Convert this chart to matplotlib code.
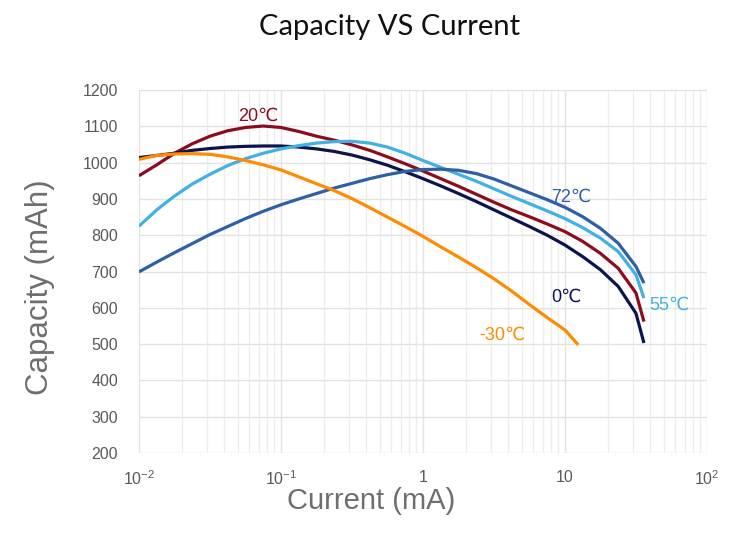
import matplotlib
matplotlib.use("Agg")
import matplotlib.pyplot as plt
from matplotlib.ticker import LogLocator, NullFormatter

plt.rcParams['font.family'] = ['Liberation Sans', 'DejaVu Sans']
plt.rcParams['mathtext.fontset'] = 'custom'
plt.rcParams['mathtext.rm'] = 'Liberation Sans'
plt.rcParams['mathtext.it'] = 'Liberation Sans'

# Current (mA), read at 1/8-decade steps
current = [0.01, 0.01334, 0.01778, 0.02371, 0.03162, 0.04217, 0.05623, 0.07499,
           0.1, 0.1334, 0.1778, 0.2371, 0.3162, 0.4217, 0.5623, 0.7499,
           1.0, 1.334, 1.778, 2.371, 3.162, 4.217, 5.623, 7.499,
           10.0, 13.34, 17.78, 23.71, 31.62, 36.0]
current_m30 = current[:25] + [12.4]

cap_20 = [964, 994, 1026, 1052, 1073, 1088, 1097, 1101,
          1097, 1086, 1073, 1062, 1049, 1034, 1016, 997,
          977, 956, 935, 913, 891, 870, 851, 831,
          810, 783, 750, 709, 641, 562]
cap_0 = [1014, 1020, 1026, 1034, 1039, 1043, 1045, 1046,
         1046, 1043, 1038, 1031, 1021, 1008, 993, 975,
         956, 936, 915, 893, 870, 847, 824, 800,
         773, 741, 705, 659, 585, 503]
cap_55 = [825, 870, 908, 941, 968, 992, 1011, 1026,
          1038, 1047, 1054, 1058, 1059, 1054, 1043, 1026,
          1006, 987, 968, 949, 928, 907, 887, 867,
          846, 821, 792, 755, 691, 627]
cap_72 = [699, 726, 752, 777, 802, 824, 846, 866,
          884, 900, 915, 930, 943, 956, 967, 976,
          981, 982, 979, 970, 955, 936, 917, 898,
          877, 851, 819, 778, 714, 668]
cap_m30 = [1009, 1020, 1024, 1025, 1023, 1016, 1006, 994,
           980, 961, 942, 923, 901, 876, 850, 824,
           797, 768, 740, 711, 680, 646, 609, 573,
           539, 498]

series = [
    ("20℃", current, cap_20, "#8C0C1E"),
    ("0℃", current, cap_0, "#0C1450"),
    ("55℃", current, cap_55, "#41B0E4"),
    ("72℃", current, cap_72, "#2F5FA7"),
    ("-30℃", current_m30, cap_m30, "#FF8C00"),
]

labels = {
    "20℃": (0.069, 1128),
    "72℃": (11.1, 906),
    "0℃": (10.2, 630),
    "55℃": (54.8, 608),
    "-30℃": (3.6, 525),
}

fig = plt.figure(figsize=(7.5, 5.36), dpi=100)
ax = fig.add_axes([0.1853, 0.1549, 0.7573, 0.677])

for name, xs, ys, col in series:
    ax.plot(xs, ys, color=col, lw=2.3, solid_capstyle='butt', solid_joinstyle='round', zorder=3)
    lx, ly = labels[name]
    ax.text(lx, ly, name, color=col, fontsize=13, ha='center', va='center', zorder=4)

ax.set_xscale('log')
ax.set_xlim(0.01, 100)
ax.set_ylim(200, 1200)
ax.set_yticks(range(200, 1201, 100))
ax.set_xticks([0.01, 0.1, 1, 10, 100])
ax.set_xticklabels([r'10$^{\mathregular{-2}}$', r'10$^{\mathregular{-1}}$', '1', '10', r'10$^{\mathregular{2}}$'])
ax.xaxis.set_minor_locator(LogLocator(base=10, subs=range(2, 10)))
ax.xaxis.set_minor_formatter(NullFormatter())

ax.grid(True, which='major', axis='both', color='#E3E3E3', lw=1.0, zorder=0)
ax.grid(True, which='minor', axis='x', color='#EDEDED', lw=0.9, zorder=0)
for s in ax.spines.values():
    s.set_visible(False)
ax.tick_params(axis='both', which='both', length=0)
ax.tick_params(axis='y', pad=15, labelsize=11.5, labelcolor='#595959')
ax.tick_params(axis='x', pad=12, labelsize=11.5, labelcolor='#595959')

fig.text(0.495, 0.066, 'Current (mA)', fontsize=21, color='#6E6E6E', ha='center', va='center')
fig.text(0.053, 0.4646, 'Capacity (mAh)', fontsize=22.5, color='#6E6E6E', ha='center', va='center',
         rotation=90)

fig.text(0.519, 0.95, 'Capacity VS Current', fontsize=21, ha='center', va='center',
         family=['Lato', 'DejaVu Sans'], fontweight='normal', color='#111111')

fig.savefig('out.png', dpi=100)
